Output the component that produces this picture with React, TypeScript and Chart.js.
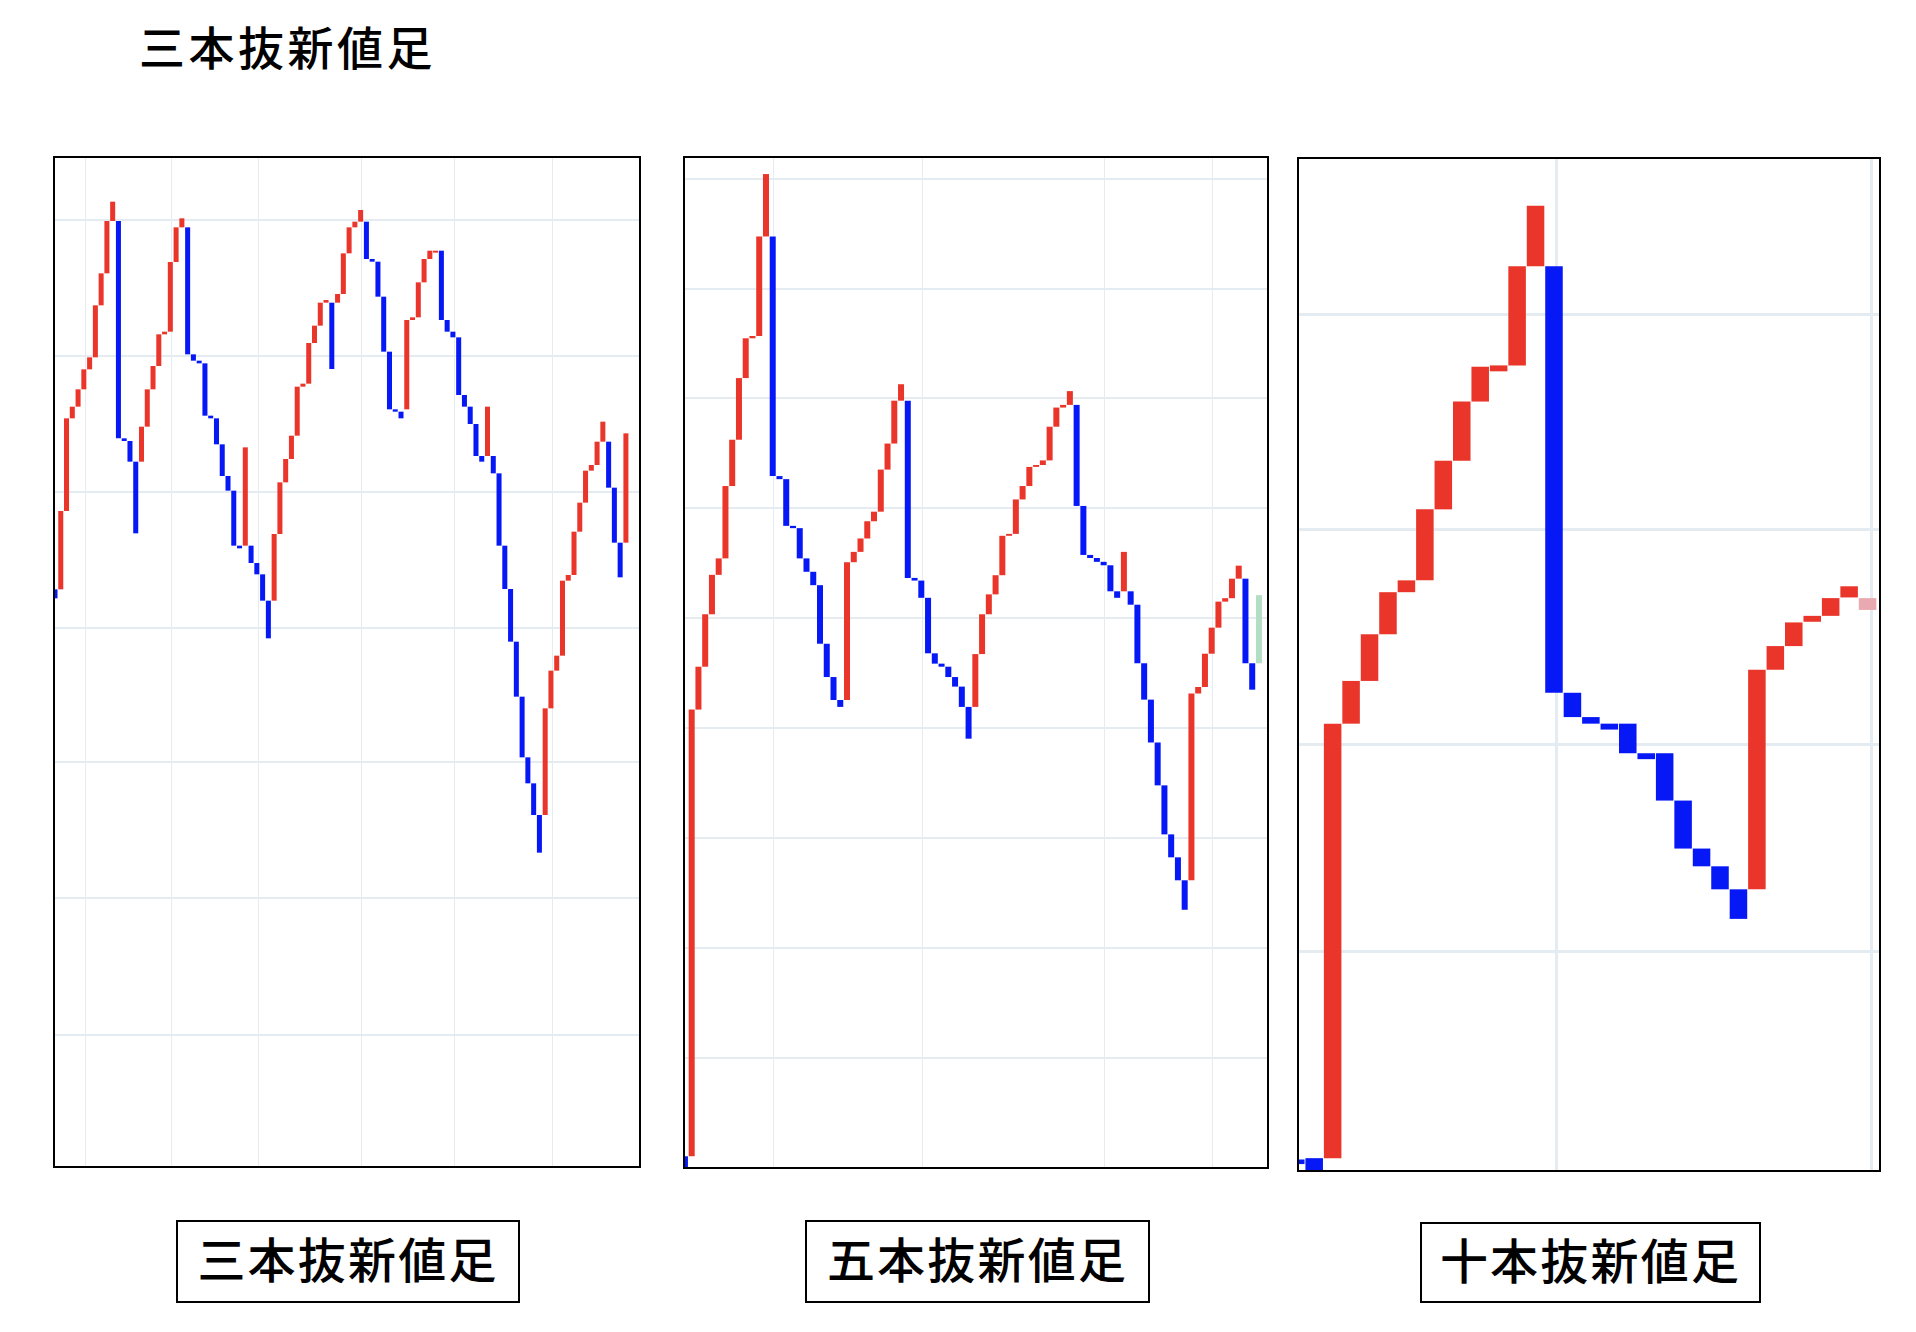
import React, { useEffect, useRef } from "react";
import { Chart, registerables } from "chart.js";

Chart.register(...registerables);

// ---- 三本抜新値足 (three-line break) ----
const open1 = [
  1682, 1682, 1917, 2195, 2230, 2282, 2342, 2378, 2534, 2630,
  2787, 2787, 2135, 2127, 2065, 2065, 2170, 2282, 2352, 2447,
  2455, 2664, 2768, 2768, 2387, 2368, 2360, 2203, 2195, 2117,
  2022, 1978, 1813, 1813, 1813, 1761, 1727, 1648, 1648, 1848,
  2003, 2073, 2143, 2290, 2299, 2421, 2473, 2542, 2542, 2542,
  2568, 2690, 2768, 2785, 2785, 2673, 2665, 2560, 2395, 2222,
  2215, 2222, 2490, 2498, 2603, 2673, 2692, 2698, 2490, 2455,
  2438, 2265, 2230, 2178, 2082, 2082, 2082, 2030, 1813, 1683,
  1525, 1360, 1178, 1100, 1005, 1005, 1325, 1438, 1483, 1708,
  1725, 1855, 1942, 2038, 2055, 2125, 2125, 1987, 1822, 1822,
];
const close1 = [
  1655, 1917, 2195, 2230, 2282, 2342, 2378, 2534, 2630, 2787,
  2845, 2135, 2127, 2065, 1850, 2170, 2282, 2352, 2447, 2455,
  2664, 2768, 2795, 2387, 2368, 2360, 2203, 2195, 2117, 2022,
  1978, 1813, 1805, 2108, 1761, 1727, 1648, 1535, 1848, 2003,
  2073, 2143, 2290, 2299, 2421, 2473, 2542, 2550, 2343, 2568,
  2690, 2768, 2785, 2820, 2673, 2665, 2560, 2395, 2222, 2215,
  2195, 2490, 2498, 2603, 2673, 2698, 2698, 2490, 2455, 2438,
  2265, 2230, 2178, 2082, 2065, 2230, 2030, 1813, 1683, 1525,
  1360, 1178, 1100, 1005, 892, 1325, 1438, 1483, 1708, 1725,
  1855, 1942, 2038, 2055, 2125, 2185, 1987, 1822, 1718, 2150,
];
const priceGrid1 = [346, 756, 1164, 1565, 1973, 2381, 2789];
const dateGrid1 = [5.21, 20.12, 35.28, 53.14, 69.27, 86.26];

// ---- 五本抜新値足 (five-line break) ----
const open2 = [
  371, 371, 1538, 1650, 1787, 1890, 1933, 2122, 2243, 2404,
  2508, 2514, 2774, 2774, 2148, 2140, 2018, 2012, 1933, 1898,
  1863, 1710, 1623, 1563, 1563, 1923, 1950, 1985, 2030, 2055,
  2165, 2233, 2345, 2345, 1882, 1875, 1830, 1685, 1658, 1650,
  1623, 1598, 1545, 1545, 1683, 1787, 1839, 1889, 1992, 1997,
  2087, 2122, 2172, 2177, 2189, 2277, 2327, 2334, 2334, 2070,
  1942, 1934, 1924, 1915, 1847, 1847, 1847, 1812, 1659, 1564,
  1452, 1340, 1212, 1152, 1092, 1092, 1580, 1597, 1684, 1752,
  1820, 1829, 1880, 1880, 1659, 1659,
];
const close2 = [
  330, 1538, 1650, 1787, 1890, 1933, 2122, 2243, 2404, 2508,
  2514, 2774, 2937, 2148, 2140, 2018, 2012, 1933, 1898, 1863,
  1710, 1623, 1563, 1545, 1923, 1950, 1985, 2030, 2055, 2165,
  2233, 2345, 2388, 1882, 1875, 1830, 1685, 1658, 1650, 1623,
  1598, 1545, 1462, 1683, 1787, 1839, 1889, 1992, 1997, 2087,
  2122, 2172, 2177, 2189, 2277, 2327, 2334, 2370, 2070, 1942,
  1934, 1924, 1915, 1847, 1830, 1950, 1812, 1659, 1564, 1452,
  1340, 1212, 1152, 1092, 1015, 1580, 1597, 1684, 1752, 1820,
  1829, 1880, 1914, 1659, 1590, 1837,
];
const priceGrid2 = [628, 915, 1202, 1489, 1777, 2064, 2351, 2638, 2925];
const dateGrid2 = [13.09, 35.15, 62.1, 78.1];

// ---- 十本抜新値足 (ten-line break) ----
const open3 = [
  464, 466, 466, 1127, 1192, 1263, 1327, 1345, 1453, 1527,
  1617, 1663, 1672, 1823, 1823, 1174, 1137, 1127, 1127, 1082,
  1082, 1010, 937, 910, 875, 875, 1209, 1245, 1282, 1291,
  1319, 1318,
];
const close3 = [
  457, 440, 1127, 1192, 1263, 1327, 1345, 1453, 1527, 1617,
  1670, 1672, 1823, 1915, 1174, 1137, 1127, 1118, 1082, 1073,
  1010, 937, 910, 875, 830, 1209, 1245, 1281, 1291, 1318,
  1336, 1300,
];
const priceGrid3 = [780, 1095, 1422, 1750];
const dateGrid3 = [14.16, 31.19];

const panelTitles = ["三本抜新値足", "五本抜新値足", "十本抜新値足"];
const headline = "三本抜新値足";

const UP = "#e9352a";
const DOWN = "#0618f6";
const GRID = "#e4ebf1";
const CJK = '"Noto Sans CJK JP", "Noto Sans CJK SC", sans-serif';

type PanelProps = {
  left: number;
  top: number;
  width: number;
  height: number;
  opens: number[];
  closes: number[];
  xRange: [number, number];
  yRange: [number, number];
  xGrid: number[];
  yGrid: number[];
  barPct: number;
  pending?: string;
  hLine: number;
  vLine: number;
};

function BreakPanel(p: PanelProps) {
  const ref = useRef<HTMLCanvasElement>(null);
  const innerW = p.width - 4;
  const innerH = p.height - 4;

  useEffect(() => {
    if (!ref.current) return;
    const last = p.opens.length - 1;
    const points = p.opens.map((o, i) => ({ x: i, y: [o, p.closes[i]] }));
    const colors = p.opens.map((o, i) => {
      if (p.pending && i === last) return p.pending;
      return p.closes[i] >= o ? UP : DOWN;
    });
    const chart = new Chart(ref.current, {
      type: "bar",
      data: {
        datasets: [
          {
            data: points as any,
            backgroundColor: colors,
            borderWidth: 0,
            categoryPercentage: 1,
            barPercentage: p.barPct,
            clip: 0 as any,
          },
        ],
      },
      options: {
        animation: false,
        responsive: false,
        maintainAspectRatio: false,
        devicePixelRatio: 1,
        layout: { padding: 0 },
        plugins: { legend: { display: false }, tooltip: { enabled: false } },
        scales: {
          x: {
            type: "linear",
            min: p.xRange[0],
            max: p.xRange[1],
            offset: false,
            ticks: { display: false },
            border: { display: false },
            grid: { color: GRID, lineWidth: p.vLine, drawTicks: false, offset: false },
            afterBuildTicks: (s: any) => {
              s.ticks = p.xGrid.map((v) => ({ value: v }));
            },
          },
          y: {
            type: "linear",
            min: p.yRange[0],
            max: p.yRange[1],
            ticks: { display: false },
            border: { display: false },
            grid: { color: GRID, lineWidth: p.hLine, drawTicks: false },
            afterBuildTicks: (s: any) => {
              s.ticks = p.yGrid.map((v) => ({ value: v }));
            },
          },
        },
      } as any,
    });
    return () => chart.destroy();
  }, []);

  return (
    <div
      style={{
        position: "absolute",
        left: p.left,
        top: p.top,
        width: p.width,
        height: p.height,
        border: "2px solid #000",
        boxSizing: "border-box",
        background: "#fff",
      }}
    >
      <canvas ref={ref} width={innerW} height={innerH} style={{ display: "block", width: innerW, height: innerH }} />
    </div>
  );
}

function LabelBox({ left, top, width, height, text }: { left: number; top: number; width: number; height: number; text: string }) {
  return (
    <div
      style={{
        position: "absolute",
        left,
        top,
        width,
        height,
        border: "2px solid #000",
        boxSizing: "border-box",
        display: "flex",
        alignItems: "center",
        justifyContent: "center",
        fontFamily: CJK,
        fontSize: 48,
        fontWeight: 500,
        letterSpacing: 2.2,
        color: "#000",
        lineHeight: 1,
        paddingBottom: 9,
        whiteSpace: "nowrap",
      }}
    >
      {text}
    </div>
  );
}

export default function App() {
  return (
    <div style={{ position: "absolute", left: 0, top: 0, width: 1916, height: 1332, background: "#fff" }}>
      <div
        style={{
          position: "absolute",
          left: 139,
          top: 15,
          fontFamily: CJK,
          fontSize: 46,
          fontWeight: 500,
          letterSpacing: 3.5,
          lineHeight: "60px",
          color: "#000",
          whiteSpace: "nowrap",
        }}
      >
        {headline}
      </div>

      <BreakPanel
        left={53}
        top={156}
        width={588}
        height={1012}
        opens={open1}
        closes={close1}
        xRange={[0, 101.27]}
        yRange={[-48, 2976]}
        xGrid={dateGrid1}
        yGrid={priceGrid1}
        barPct={0.87}
        hLine={2}
        vLine={1}
      />
      <BreakPanel
        left={683}
        top={156}
        width={586}
        height={1013}
        opens={open2}
        closes={close2}
        xRange={[0.01, 86.19]}
        yRange={[343, 2979]}
        xGrid={dateGrid2}
        yGrid={priceGrid2}
        barPct={0.89}
        pending="#b4dec4"
        hLine={2}
        vLine={1}
      />
      <BreakPanel
        left={1297}
        top={157}
        width={584}
        height={1015}
        opens={open3}
        closes={close3}
        xRange={[0.176, 31.62]}
        yRange={[448, 1986]}
        xGrid={dateGrid3}
        yGrid={priceGrid3}
        barPct={0.95}
        pending="#e8aab0"
        hLine={3}
        vLine={3}
      />

      <LabelBox left={176} top={1220} width={344} height={83} text={panelTitles[0]} />
      <LabelBox left={805} top={1220} width={345} height={83} text={panelTitles[1]} />
      <LabelBox left={1420} top={1222} width={341} height={81} text={panelTitles[2]} />
    </div>
  );
}
